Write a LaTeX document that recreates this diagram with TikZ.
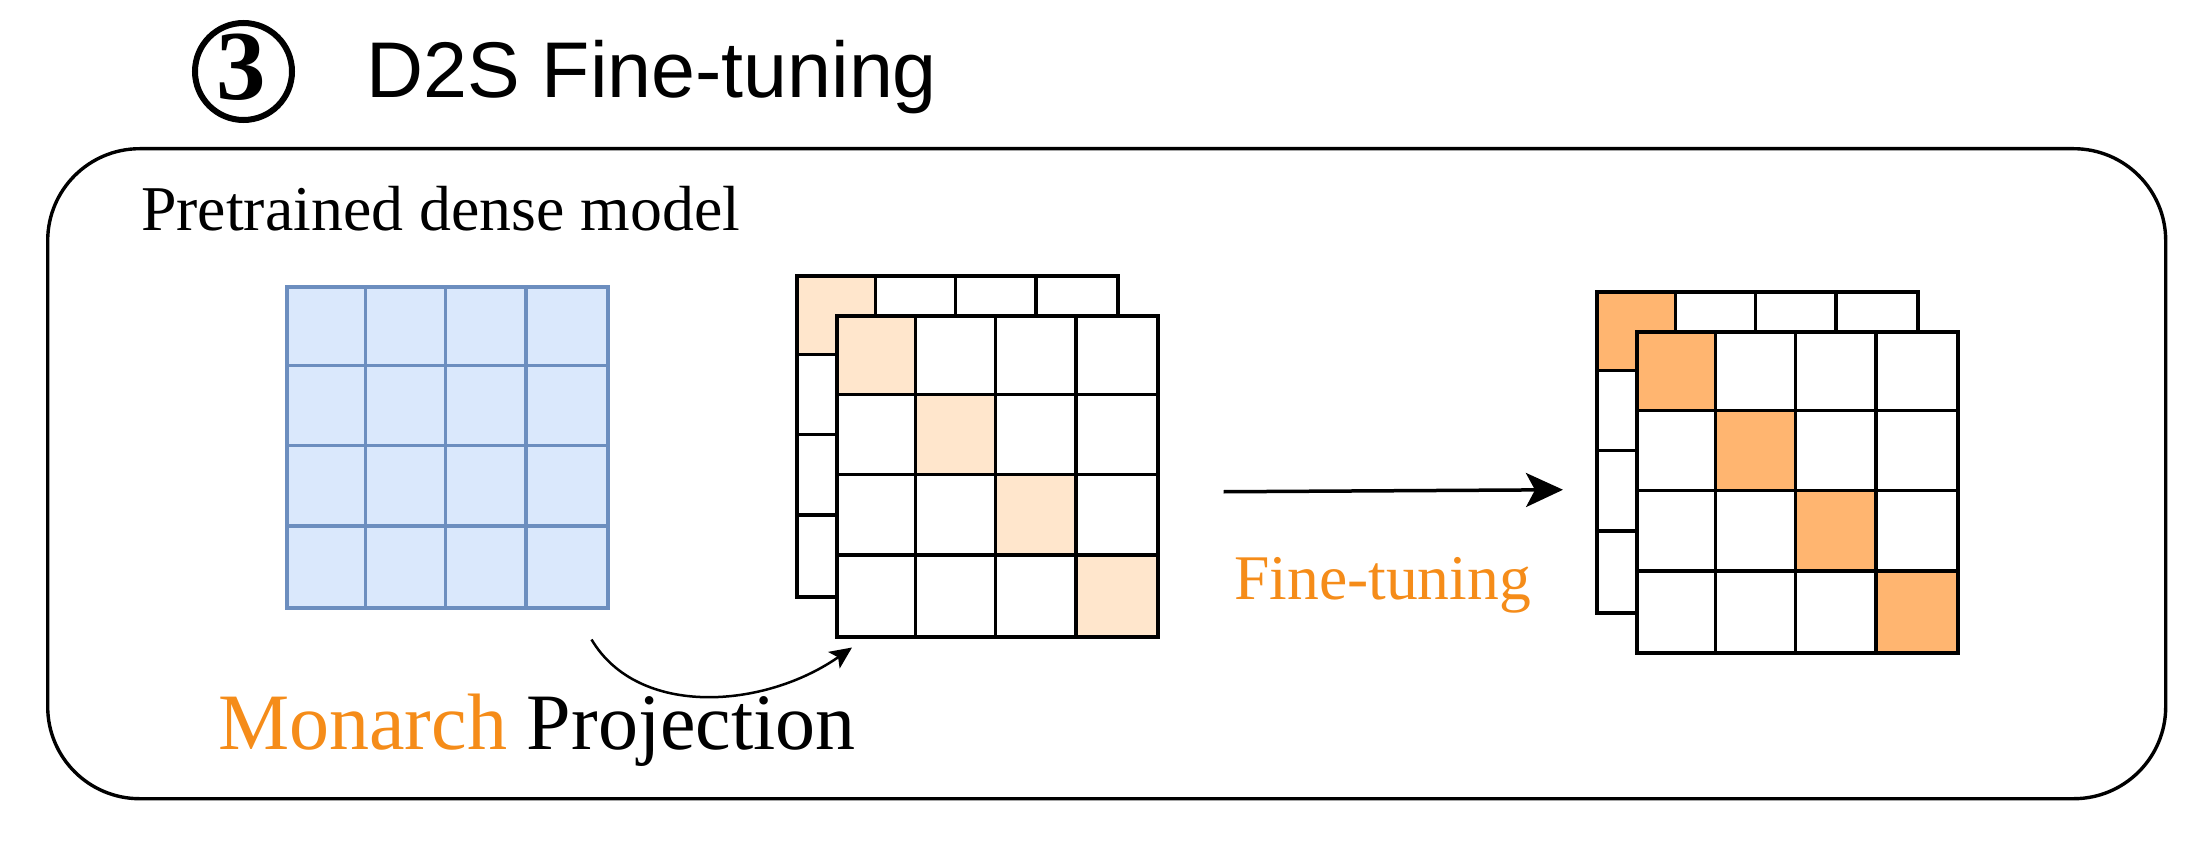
\documentclass[tikz,border=0pt]{standalone}
\usepackage{fontspec}
\setmainfont{Liberation Serif}
\newfontfamily\titlefont{Liberation Sans}
\usetikzlibrary{arrows.meta,calc}
\definecolor{peach}{HTML}{FFE6CC}
\definecolor{ftorange}{HTML}{FFB570}
\definecolor{bluefill}{HTML}{DAE8FC}
\definecolor{bluedraw}{HTML}{6C8EBF}
\definecolor{txtorange}{RGB}{245,140,25}
\newcommand\mgrid[6]{% x0,y0,ncolored,fillcolor,name,linecolor
  \fill[white] (#1,#2) rectangle ++(321,321);
  \foreach \i in {1,...,#3} {\fill[#4] ({#1+(\i-1)*80.25},{#2+(\i-1)*80.25}) rectangle ++(80.25,80.25);}
  \foreach \k in {1,2,3} {
    \draw[draw=#6, line width=3.5pt] ({#1+\k*80.25},#2) -- ++(0,321);
    \draw[draw=#6, line width=3.5pt] (#1,{#2+\k*80.25}) -- ++(321,0);
  }
  \node[mtx, draw=#6] (#5) at (#1,#2) {};
}
\begin{document}
\begin{tikzpicture}[x=1pt,y=-1pt,
  lbl/.style={anchor=base west, inner sep=0pt},
  mtx/.style={line width=3.5pt, minimum size=321pt, inner sep=0pt, anchor=north west, rectangle},
  frame/.style={draw=black, line width=3.4pt, rounded corners=92pt},
  conn/.style={draw=black, line width=2.5pt}
]
\useasboundingbox (0,0) rectangle (2210,845);

% heading
\node[circle, draw=black, line width=6pt, minimum size=97pt, inner sep=0pt] (num) at (243.5,71.5) {};
\node[inner sep=0pt, font=\bfseries\fontsize{99pt}{99pt}\selectfont] (numtxt) at (241.5,67.5) {3};
\node[lbl, font=\titlefont\fontsize{79pt}{79pt}\selectfont] (title) at (366,98) {D2S Fine-tuning};

% frame
\node[frame, minimum width=2118pt, minimum height=650pt, anchor=north west, inner sep=0pt] (box) at (46,147) {};

\node[lbl, font=\fontsize{63.8pt}{63.8pt}\selectfont] (pre) at (141,230) {Pretrained dense model};

% dense model
\fill[bluefill] (285,285) rectangle ++(321,321);
\foreach \k in {1,2,3} {
  \draw[draw=bluedraw, line width=3.5pt] ({285+\k*80.25},285) -- ++(0,321);
  \draw[draw=bluedraw, line width=3.5pt] (285,{285+\k*80.25}) -- ++(321,0);
}
\node[mtx, draw=bluedraw] (dense) at (285,285) {};

% monarch projected
\mgrid{795}{274}{1}{peach}{midback}{black}
\mgrid{835}{314}{4}{peach}{midfront}{black}

% fine-tuned
\mgrid{1595}{290}{1}{ftorange}{rightback}{black}
\mgrid{1635}{330}{4}{ftorange}{rightfront}{black}

% curved projection arrow
\coordinate (cs) at ($(dense.south east)+(-18,30)$);
\coordinate (ce) at ($(midfront.south west)+(17,9)$);
\draw[conn, -{Stealth[length=22pt,width=20pt,inset=5pt]}] (cs) .. controls ($(cs)+(47,79)$) and ($(ce)+(-87,61)$) .. (ce);

\node[lbl, font=\fontsize{80pt}{80pt}\selectfont] (proj) at (218,749) {\textcolor{txtorange}{Monarch} Projection};

% fine-tuning arrow
\coordinate (fa) at ($(midfront.east)+(64,15.5)$);
\coordinate (fb) at ($(rightfront.west)+(-72,-2.5)$);
\draw[draw=black, line width=3.5pt, -{Stealth[length=37pt,width=34pt,inset=9pt]}] (fa) -- (fb);
\node[lbl, text=txtorange, font=\fontsize{63.6pt}{63.6pt}\selectfont] (ft) at (1234,599) {Fine-tuning};
\end{tikzpicture}
\end{document}
